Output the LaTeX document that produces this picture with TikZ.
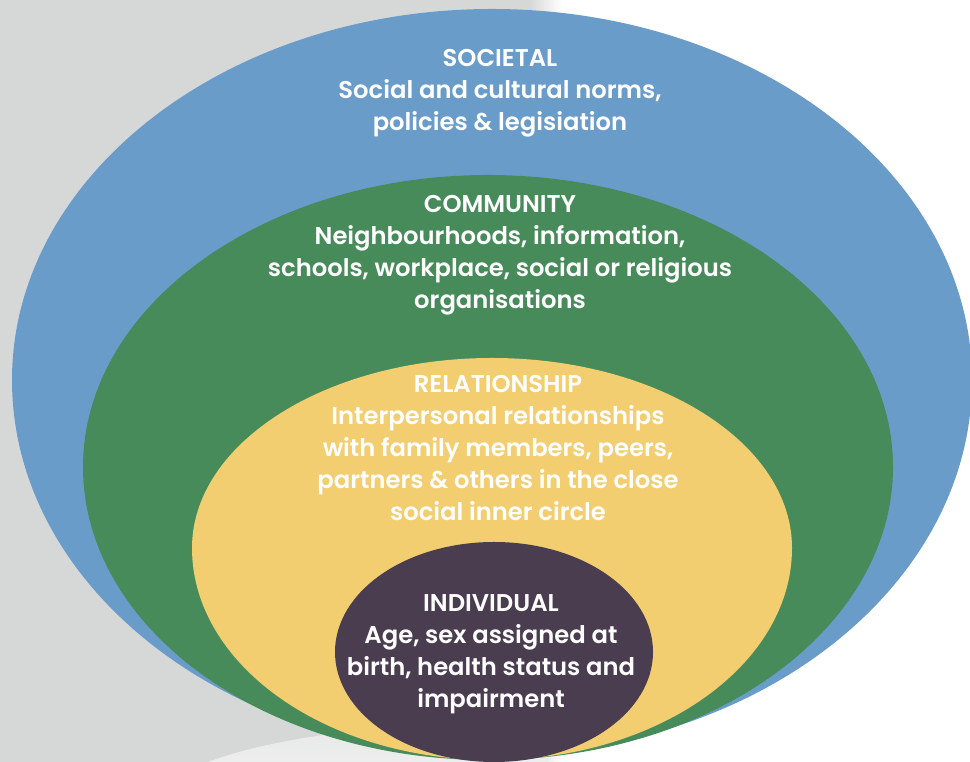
\documentclass[tikz,border=0pt]{standalone}
\usepackage{fontspec}
\setmainfont{Poppins}[BoldFont={Poppins SemiBold}]
\definecolor{bggray}{HTML}{D6D8D7}
\definecolor{societal}{HTML}{6A9CCA}
\definecolor{community}{HTML}{488B5B}
\definecolor{relationship}{HTML}{F2CE70}
\definecolor{individual}{HTML}{4A3D50}
\tikzset{
  layer text/.style = {align=center, text=white, inner sep=0pt,
    font=\bfseries\fontsize{18.2}{24}\selectfont}
}
\begin{document}
\begin{tikzpicture}[x=0.75pt, y=0.75pt]
  \useasboundingbox (0,0) rectangle (970,762);
  \clip (0,0) rectangle (970,762);
  % background
  \fill[bggray] (0,0) rectangle (530,762);
  \shade[left color=bggray, right color=white] (529,0) rectangle (562,762);
  \begin{scope}
    \clip (0,0) rectangle (545,100);
    \shade[top color=bggray!60!white, bottom color=white] (520,-40) ellipse [x radius=360, y radius=80];
  \end{scope}
  % layers, outer to inner
  \foreach \col/\cx/\cy/\rx/\rt/\rb in {societal/492/382/480/371/375,
      community/488/295/405/292/293,
      relationship/492/214/300/190/212,
      individual/494/110/159/110/110}
    \fill[\col] (\cx+\rx,\cy) arc[start angle=0, end angle=180, x radius=\rx, y radius=\rt]
      arc[start angle=180, end angle=360, x radius=\rx, y radius=\rb] -- cycle;
  % texts
  \node[layer text] (societal) at (500,669) {SOCIETAL\\Social and cultural norms,\\policies \& legisiation};
  \node[layer text] (community) at (500,507) {COMMUNITY\\Neighbourhoods, information,\\schools, workplace, social or religious\\organisations};
  \node[layer text] (relationship) at (498,314) {RELATIONSHIP\\Interpersonal relationships\\with family members, peers,\\partners \& others in the close\\social inner circle};
  \node[layer text] (individual) at (491,108) {INDIVIDUAL\\Age, sex assigned at\\birth, health status and\\impairment};
\end{tikzpicture}
\end{document}
